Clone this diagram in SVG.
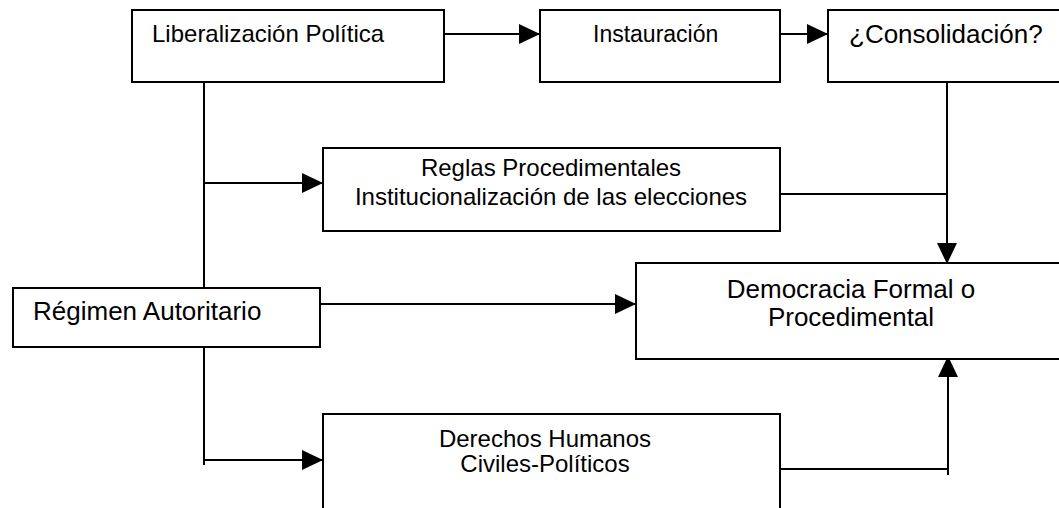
<svg xmlns="http://www.w3.org/2000/svg" width="1059" height="508" viewBox="0 0 1059 508">
<style>
.box{fill:#fff;stroke:#000;stroke-width:2}
.ln{fill:none;stroke:#000;stroke-width:2}
.t{font-family:"Liberation Sans",Arial,sans-serif;fill:#000}
.s{font-size:24px}
.m{font-size:23px}
.l{font-size:26px}
</style>
<defs>
<marker id="ah" markerUnits="userSpaceOnUse" markerWidth="21" markerHeight="20" refX="21" refY="10" orient="auto" viewBox="0 0 21 20">
<path d="M0,0 L21,10 L0,20 Z" fill="#000"/>
</marker>
</defs>
<rect width="1059" height="508" fill="#fff"/>
<g id="connectors">
<line class="ln" x1="444" y1="34" x2="540" y2="34" marker-end="url(#ah)"/>
<line class="ln" x1="780" y1="34" x2="828" y2="34" marker-end="url(#ah)"/>
<line class="ln" x1="204" y1="78" x2="204" y2="298"/>
<line class="ln" x1="204" y1="183" x2="323" y2="183" marker-end="url(#ah)"/>
<line class="ln" x1="947" y1="78" x2="947" y2="264" marker-end="url(#ah)"/>
<line class="ln" x1="780" y1="194" x2="947" y2="194"/>
<line class="ln" x1="320" y1="304" x2="636" y2="304" marker-end="url(#ah)"/>
<line class="ln" x1="204" y1="343" x2="204" y2="465"/>
<line class="ln" x1="204" y1="460" x2="323" y2="460" marker-end="url(#ah)"/>
<line class="ln" x1="780" y1="469" x2="948" y2="469"/>
<line class="ln" x1="948" y1="475" x2="948" y2="356" marker-end="url(#ah)"/>
</g>
<g id="liberalizacion">
<rect class="box" x="132" y="10" width="312" height="72"/>
<text class="t s" x="152" y="42">Liberalización Política</text>
</g>
<g id="instauracion">
<rect class="box" x="540" y="10" width="240" height="72"/>
<text class="t m" x="593" y="42">Instauración</text>
</g>
<g id="consolidacion">
<rect class="box" x="828" y="10" width="240" height="72"/>
<text class="t l" x="849" y="43">¿Consolidación?</text>
</g>
<g id="reglas">
<rect class="box" x="323" y="148" width="457" height="83"/>
<text class="t s" x="551" y="176" text-anchor="middle">Reglas Procedimentales</text>
<text class="t s" x="551" y="205" text-anchor="middle">Institucionalización de las elecciones</text>
</g>
<g id="regimen">
<rect class="box" x="13" y="288" width="307" height="59"/>
<text class="t l" x="33" y="320">Régimen Autoritario</text>
</g>
<g id="democracia">
<rect class="box" x="636" y="263" width="440" height="96"/>
<text class="t l" x="851" y="298" text-anchor="middle">Democracia Formal o</text>
<text class="t l" x="851" y="326" text-anchor="middle">Procedimental</text>
</g>
<g id="derechos">
<rect class="box" x="323" y="414" width="457" height="110"/>
<text class="t s" x="545" y="447" text-anchor="middle">Derechos Humanos</text>
<text class="t s" x="545" y="472" text-anchor="middle">Civiles-Políticos</text>
</g>
</svg>
